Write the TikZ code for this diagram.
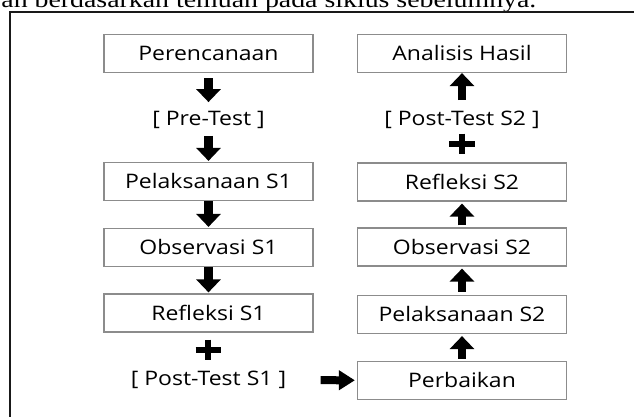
\documentclass[tikz,border=0pt]{standalone}
\usepackage{fontspec}
\setmainfont{Open Sans}[FakeStretch=1.15]
\newfontfamily\captionfont{Liberation Serif}[FakeStretch=1.2]
\usetikzlibrary{arrows.meta}

\begin{document}
\begin{tikzpicture}[x=0.5pt,y=-0.5pt,
  box/.style={draw=black!45,line width=0.6pt,fill=white,minimum width=104.5pt,minimum height=19pt,inner sep=0pt,font=\fontsize{10}{12}\selectfont,text=black},
  lbl/.style={inner sep=0pt,text height=7.5pt,text depth=2pt,font=\fontsize{10}{12}\selectfont,text=black},
  blk/.style={line width=4.2pt,-{Triangle[length=6.5pt,width=12pt]}},
  blkh/.style={line width=4pt,-{Triangle[length=8pt,width=9.5pt]}},
  plussign/.style={minimum width=12.5pt,minimum height=10pt,inner sep=0pt},
  plusbar/.style={line width=3pt}]

\useasboundingbox (0,0) rectangle (634,417);
\clip (0,0) rectangle (634,417);

% caption line cut by the page
\node[anchor=base west,inner sep=0pt,font=\captionfont\fontsize{11.6}{12}\selectfont] (caption) at (1,8) {an berdasarkan temuan pada siklus sebelumnya.};

% frame
\draw[line width=1pt,black!90] (9.5,440) -- (9.5,12.2) -- (660,12.2);

% siklus 1
\node[box] (perenc) at (208.5,53.5) {Perencanaan};
\node[lbl] (pretest) at (208.5,120) {[ Pre-Test ]};
\node[box] (pelak1) at (208.5,181.5) {Pelaksanaan S1};
\node[box] (obs1) at (208.5,247.5) {Observasi S1};
\node[box] (ref1) at (208.5,313) {Refleksi S1};
\node[plussign] (plus1) at (208.5,350) {};
\node[lbl] (post1) at (208.5,380) {[ Post-Test S1 ]};

% siklus 2
\node[box] (perbaikan) at (462,380.5) {Perbaikan};
\node[box] (pelak2) at (462,314.5) {Pelaksanaan S2};
\node[box] (obs2) at (462,247) {Observasi S2};
\node[box] (ref2) at (462,182) {Refleksi S2};
\node[plussign] (plus2) at (462,144) {};
\node[lbl] (post2) at (462,120) {[ Post-Test S2 ]};
\node[box] (analisis) at (462,53.5) {Analisis Hasil};

% plus signs
\draw[plusbar] (plus1.west) -- (plus1.east) (plus1.north) -- (plus1.south);
\draw[plusbar] (plus2.west) -- (plus2.east) (plus2.north) -- (plus2.south);

% arrows down
\draw[blk,shorten <=2.5pt,shorten >=4pt] (perenc) -- (pretest);
\draw[blk,shorten <=3pt,shorten >=0.5pt] (pretest) -- (pelak1);
\draw[blk,shorten >=0.5pt] (pelak1) -- (obs1);
\draw[blk,shorten >=0.5pt] (obs1) -- (ref1);

% arrow across
\draw[blkh,shorten <=17pt,shorten >=1pt] (post1) -- (perbaikan);

% arrows up
\draw[blk,shorten <=1pt,shorten >=1pt] (perbaikan) -- (pelak2);
\draw[blk,shorten <=1.5pt,shorten >=1pt] (pelak2) -- (obs2);
\draw[blk,shorten <=1pt,shorten >=1pt] (obs2) -- (ref2);
\draw[blk,shorten <=5pt] (post2) -- (analisis);

\end{tikzpicture}
\end{document}
